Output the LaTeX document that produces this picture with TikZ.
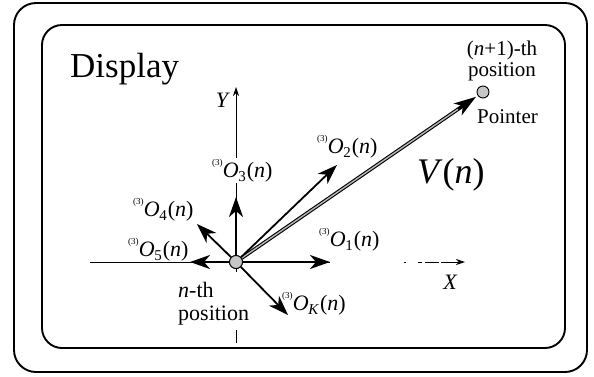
\documentclass[tikz,border=0pt]{standalone}
\usepackage{fontspec}
\setmainfont{Liberation Serif}
\usetikzlibrary{arrows.meta}
\newcommand{\olab}[1]{{\fontsize{9}{9}\selectfont\raisebox{12pt}{(3)}}\kern0.3pt\textit{O}\kern-0.5pt\raisebox{-4pt}{\fontsize{15}{15}\selectfont #1}\kern1pt(\textit{n})}
\begin{document}
\begin{tikzpicture}[x=1pt,y=-1pt,
  frame/.style={line width=1.9pt},
  vec/.style={line width=1.8pt, -{Stealth[length=20pt,width=14pt,inset=6pt]}},
  axisline/.style={line width=0.8pt},
  olabel/.style={font=\fontsize{22}{24}\selectfont, inner sep=0pt, anchor=base west},
  small/.style={font=\fontsize{21}{22}\selectfont, inner sep=0pt},
  posdot/.style={circle, draw, line width=0.9pt, fill=gray!45, inner sep=0pt}]
\useasboundingbox (0,0) rectangle (594,376);
\draw[frame, rounded corners=22pt] (14,3) rectangle (587,372);
\draw[frame, rounded corners=20pt] (42,25) rectangle (565,348);
\node[anchor=base west, font=\fontsize{35}{37}\selectfont, inner sep=0pt] (disp) at (70,77) {Display};

% coordinates
\coordinate (xs) at (90,262);
\coordinate (xm) at (330,262);
\coordinate (xd) at (404,262);
\coordinate (xe) at (465,262);
\coordinate (ys) at (236,343);
\coordinate (ye) at (236,87);
\coordinate (t1) at (330,262);
\coordinate (t2) at (337,165);
\coordinate (t3) at (236,197);
\coordinate (t4) at (197,224);
\coordinate (t5) at (190,262);
\coordinate (tk) at (288,315);

% axes
\draw[axisline, dash pattern=on 13pt off 58pt on 400pt, -{Stealth[length=9pt,width=6pt]}] (ys) -- (ye);
\draw[axisline] (xs) -- (xm);
\draw[axisline, dash pattern=on 2pt off 12pt on 4pt off 3pt on 14pt off 2pt on 40pt off 0pt, -{Stealth[length=9pt,width=6pt]}] (xd) -- (xe);

\node[olabel, fill=white, inner sep=1pt] (l3) at (211,177) {\olab{3}};
\node[olabel] (l2) at (317,153) {\olab{2}};
\node[olabel] (l1) at (319,246) {\olab{1}};
\node[olabel] (lk) at (282,310) {\olab{\textit{K}}};
\node[olabel] (l4) at (133,216) {\olab{4}};
\node[olabel] (l5) at (128,256) {\olab{5}};

\node[font=\fontsize{22}{24}\selectfont\itshape, inner sep=0pt, anchor=base] (ylab) at (222,107) {Y};
\node[font=\fontsize{22}{24}\selectfont\itshape, inner sep=0pt, anchor=base] (xlab) at (450,289) {X};

\node[posdot, minimum size=13pt] (cn) at (236,262) {};
\node[posdot, minimum size=12pt] (pn) at (483,92) {};

% V(n) double vector
\draw[line width=3.6pt, -{Stealth[length=22pt,width=14pt,inset=6pt]}, shorten >=2pt] (cn) -- (pn);
\draw[gray!55, line width=1.4pt, shorten >=24pt] (cn) -- (pn);

\draw[vec] (cn) -- (t1);
\draw[vec] (cn) -- (t2);
\draw[vec] (cn) -- (t3);
\draw[vec] (cn) -- (t4);
\draw[vec] (cn) -- (t5);
\draw[vec] (cn) -- (tk);
\node[posdot, minimum size=13pt] at (cn) {};

\node[anchor=base west, font=\fontsize{36}{38}\selectfont, inner sep=0pt] (vn) at (417,183) {\textit{V}(\textit{n})};

\node[small, anchor=base] (np1) at (502,55) {(\textit{n}+1)-th};
\node[small, anchor=base] (np2) at (502,76) {position};
\node[small, anchor=base west] (ptr) at (477,123) {Pointer};

\node[anchor=base west, fill=white, inner sep=1pt, font=\fontsize{22}{24}\selectfont] (nth1) at (177,297) {\textit{n}-th};
\node[anchor=base west, fill=white, inner sep=1pt, font=\fontsize{22}{24}\selectfont] (nth2) at (177,320) {position};
\end{tikzpicture}
\end{document}
